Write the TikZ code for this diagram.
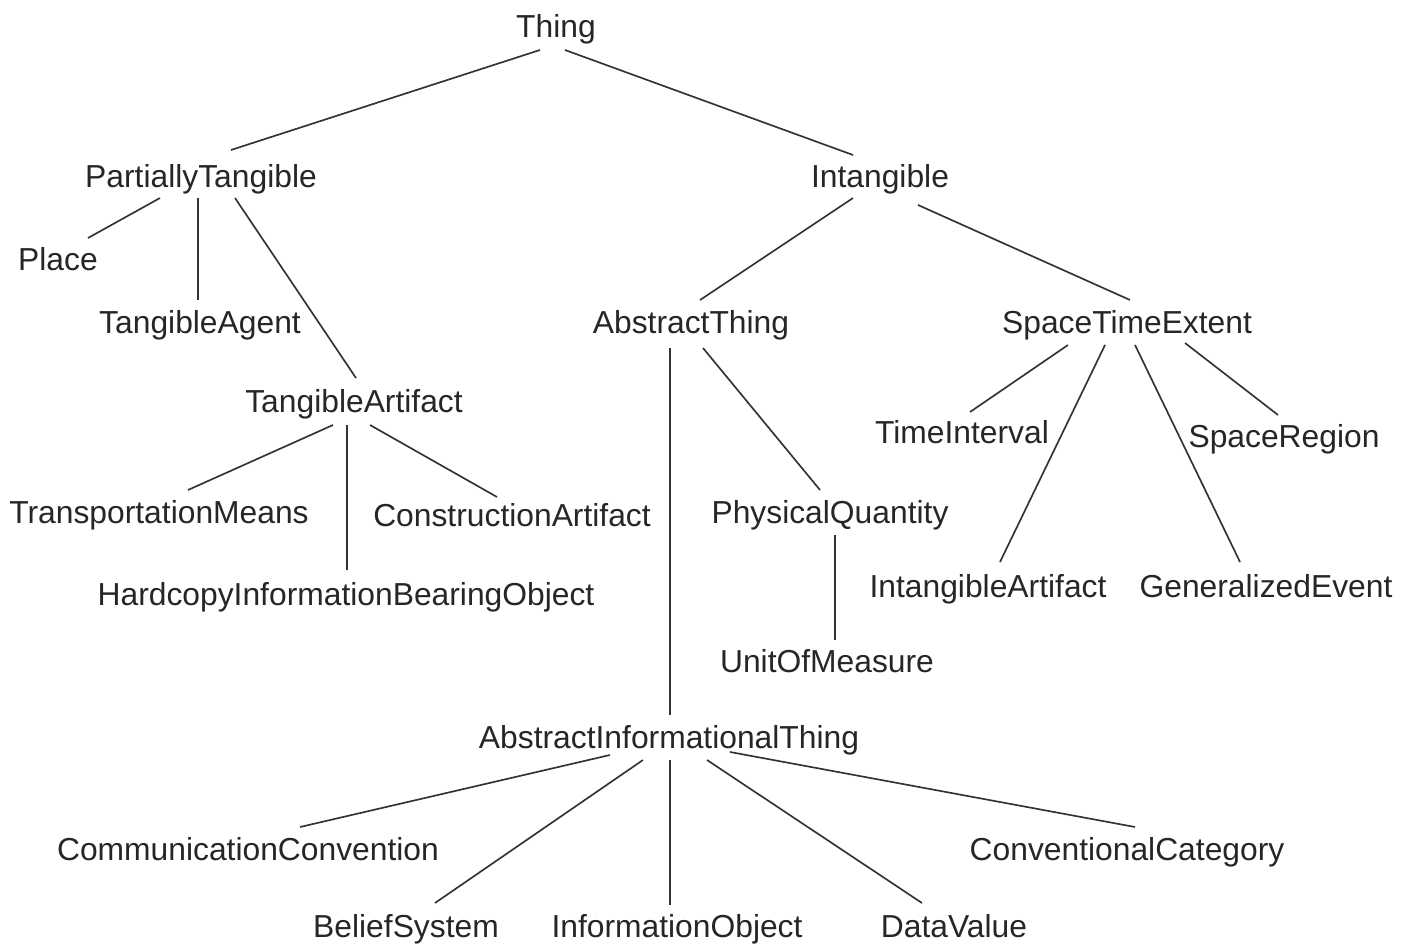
\documentclass[tikz,border=0pt]{standalone}
\usepackage{fontspec}
\setmainfont{Liberation Sans}
\usetikzlibrary{calc}

\tikzset{
    concept/.style={font=\fontsize{18.1}{20}\selectfont, text=black!85, anchor=base, inner sep=0pt},
    branch/.style={draw=black!80, line width=0.95pt}
}

\begin{document}
\begin{tikzpicture}[x=0.02cm, y=-0.02cm]
    \useasboundingbox (0,0) rectangle (1412,945);

    % Top levels
    \node[concept] (thing)      at (556,38)  {Thing};
    \node[concept] (pt)         at (201,188) {PartiallyTangible};
    \node[concept] (intangible) at (880,188) {Intangible};

    % Tangible side
    \node[concept] (place)     at (58,271)  {Place};
    \node[concept] (tagent)    at (200,334) {TangibleAgent};
    \node[concept] (tartifact) at (354,413) {TangibleArtifact};
    \node[concept] (transport) at (159,523) {TransportationMeans};
    \node[concept] (construct) at (512,526) {ConstructionArtifact};
    \node[concept] (hardcopy)  at (346,605) {HardcopyInformationBearingObject};

    % Intangible side
    \node[concept] (absthing)  at (691,334)  {AbstractThing};
    \node[concept] (ste)       at (1127,334) {SpaceTimeExtent};
    \node[concept] (timeint)   at (962,443)  {TimeInterval};
    \node[concept] (spacereg)  at (1284,447) {SpaceRegion};
    \node[concept] (physq)     at (830,523)  {PhysicalQuantity};
    \node[concept] (intart)    at (988,597)  {IntangibleArtifact};
    \node[concept] (genevent)  at (1266,597) {GeneralizedEvent};
    \node[concept] (unit)      at (827,672)  {UnitOfMeasure};

    % Informational things
    \node[concept] (ait)       at (669,748)  {AbstractInformationalThing};
    \node[concept] (commconv)  at (248,860)  {CommunicationConvention};
    \node[concept] (convcat)   at (1127,860) {ConventionalCategory};
    \node[concept] (belief)    at (406,937)  {BeliefSystem};
    \node[concept] (infoobj)   at (677,937)  {InformationObject};
    \node[concept] (datavalue) at (954,937)  {DataValue};

    % Branches: parent/offset/child/offset (offsets from the base points)
    \foreach \a/\da/\b/\db in {
        thing/{-16,12}/pt/{30,-38},
        thing/{9,12}/intangible/{-27,-33},
        pt/{-41,10}/place/{30,-33},
        pt/{-3,10}/tagent/{-2,-34},
        pt/{34,10}/tartifact/{2,-35},
        intangible/{-27,10}/absthing/{9,-34},
        intangible/{38,17}/ste/{3,-34},
        tartifact/{-21,12}/transport/{29,-33},
        tartifact/{-7,12}/hardcopy/{1,-35},
        tartifact/{16,12}/construct/{-15,-29},
        absthing/{-21,14}/ait/{1,-33},
        absthing/{12,14}/physq/{-10,-33},
        physq/{5,12}/unit/{8,-32},
        ste/{-59,11}/timeint/{8,-31},
        ste/{-22,11}/intart/{12,-35},
        ste/{8,11}/genevent/{-26,-35},
        ste/{58,9}/spacereg/{-6,-32},
        ait/{-59,7}/commconv/{52,-33},
        ait/{-26,12}/belief/{29,-34},
        ait/{1,12}/infoobj/{-7,-32},
        ait/{38,12}/datavalue/{-32,-34},
        ait/{61,4}/convcat/{8,-33}}
    \draw[branch] ($(\a.base)+(\da)$) -- ($(\b.base)+(\db)$);
\end{tikzpicture}
\end{document}
